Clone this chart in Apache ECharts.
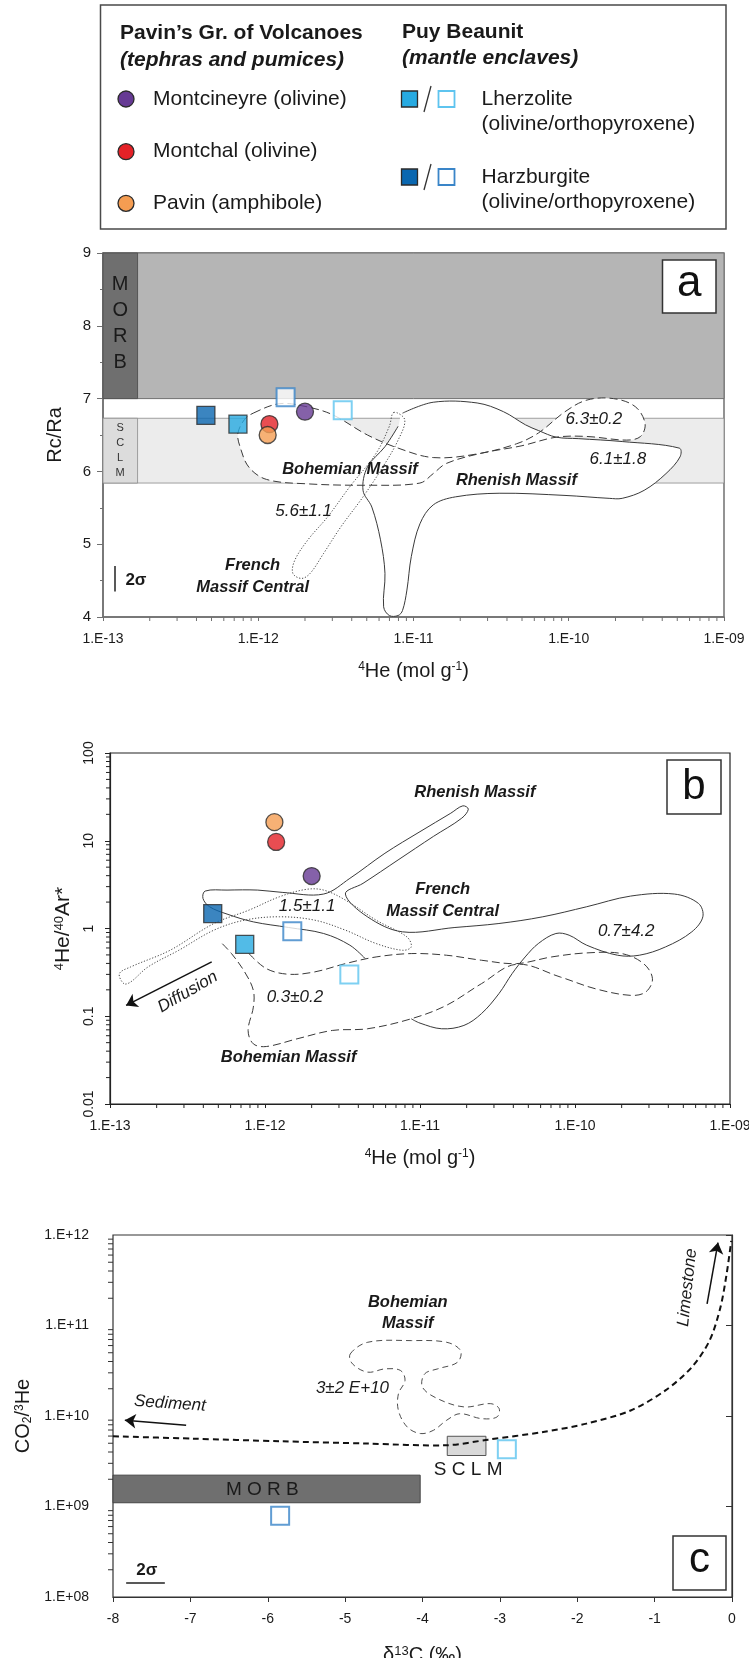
<!DOCTYPE html>
<html><head><meta charset="utf-8">
<script src="https://cdn.jsdelivr.net/npm/echarts@6/dist/echarts.min.js"></script>
<style>html,body{margin:0;padding:0;background:#fff}#c{width:749px;height:1658px}</style>
</head><body><div id="c"></div>
<script>
// ---------------- DATA ----------------
// samples: circles = Pavin's group of volcanoes, squares = Puy Beaunit enclaves
const circleNames = ['Montcineyre (olivine)', 'Montchal (olivine)', 'Pavin (amphibole)'];
const circleHe    = [2.0e-12, 1.18e-12, 1.15e-12];
const circleRcRa  = [6.82, 6.65, 6.50];
const circleHeAr  = [3.96, 9.7, 16.3];

const squareNames = ['Lherzolite (olivine)', 'Harzburgite (olivine)', 'Lherzolite (orthopyroxene)', 'Harzburgite (orthopyroxene)'];
const squareHe    = [7.4e-13, 4.6e-13, 3.5e-12, 1.5e-12];
const squareRcRa  = [6.65, 6.77, 6.84, 7.02];
const squareHeAr  = [0.66, 1.48, 0.30, 0.93];
const squareD13C  = [null, null, -2.91, -5.84];
const squareCO2He = [null, null, 4.3e9, 7.9e8];

// axes
const heRange = [1e-13, 1e-9];
const rcRaRange = [4, 9];
const heArRange = [0.01, 100];
const d13cRange = [-8, 0];
const co2HeRange = [1e8, 1e12];
const heTickLabels = ['1.E-13', '1.E-12', '1.E-11', '1.E-10', '1.E-09'];
const heArTickLabels = ['0.01', '0.1', '1', '10', '100'];
const co2HeTickLabels = ['1.E+08', '1.E+09', '1.E+10', '1.E+11', '1.E+12'];
const logMinorMultipliers = [2, 3, 4, 5, 6, 7, 8, 9];

// reference fields
const morbRcRa = [7, 9];
const sclmRcRa = [5.84, 6.73];
const bandLabelHe = [1e-13, 1.67e-13];
const morbD13C = [-8, -4.03];
const morbCO2He = [1.1e9, 2.22e9];
const sclmD13C = [-3.68, -3.18];
const sclmCO2He = [3.66e9, 5.97e9];

// panel a outlines
const bohemianA_He = [9.28e-13, 1.37e-12, 2.03e-12, 3.00e-12, 5.05e-12, 7.96e-12, 1.34e-11, 2.57e-11, 4.62e-11, 6.40e-11, 9.46e-11, 1.31e-10, 1.94e-10, 2.68e-10, 3.10e-10, 2.90e-10, 2.36e-10, 1.31e-10, 8.31e-11, 4.93e-11, 2.74e-11, 1.63e-11, 1.34e-11, 1.10e-11, 5.05e-12, 2.03e-12, 1.13e-12, 8.69e-13, 7.63e-13, 7.39e-13, 8.14e-13];
const bohemianA_R  = [6.80, 6.93, 6.89, 6.78, 6.50, 6.32, 6.19, 6.24, 6.38, 6.53, 6.82, 6.98, 7.00, 6.89, 6.66, 6.48, 6.43, 6.48, 6.47, 6.35, 6.25, 6.11, 5.97, 5.84, 5.81, 5.83, 5.89, 6.06, 6.34, 6.52, 6.71];
const rhenishA_He = [8.50e-12, 1.34e-11, 2.57e-11, 3.80e-11, 5.26e-11, 6.40e-11, 8.31e-11, 1.15e-10, 2.21e-10, 5.15e-10, 5.21e-10, 4.23e-10, 3.06e-10, 2.21e-10, 1.82e-10, 9.46e-11, 3.56e-11, 1.86e-11, 1.34e-11, 1.10e-11, 9.68e-12, 9.07e-12, 8.50e-12, 7.96e-12, 6.99e-12, 6.42e-12, 6.55e-12, 6.13e-12, 5.39e-12, 4.73e-12, 5.05e-12, 6.55e-12, 7.96e-12];
const rhenishA_R  = [6.80, 6.95, 6.94, 6.82, 6.64, 6.56, 6.47, 6.45, 6.41, 6.32, 6.20, 5.97, 5.74, 5.63, 5.63, 5.67, 5.70, 5.65, 5.54, 5.28, 4.83, 4.37, 4.09, 4.02, 4.02, 4.14, 4.60, 5.06, 5.51, 5.74, 6.06, 6.34, 6.62];
const frenchA_He = [7.46e-12, 8.78e-12, 7.96e-12, 6.34e-12, 4.73e-12, 3.41e-12, 2.63e-12, 2.16e-12, 1.90e-12, 1.67e-12, 1.72e-12, 2.09e-12, 2.81e-12, 3.89e-12, 5.75e-12, 6.99e-12];
const frenchA_R  = [6.81, 6.71, 6.43, 6.06, 5.65, 5.24, 4.87, 4.60, 4.53, 4.60, 4.78, 5.06, 5.38, 5.79, 6.25, 6.62];

// panel b outlines
const frenchB_He = [1.23e-13, 1.15e-13, 1.36e-13, 2.44e-13, 4.68e-13, 7.88e-13, 1.24e-12, 1.84e-12, 2.39e-12, 3.30e-12, 5.21e-12, 8.23e-12, 8.78e-12, 7.71e-12, 5.21e-12, 3.30e-12, 2.09e-12, 1.24e-12, 7.39e-13, 4.68e-13, 2.78e-13, 1.76e-13, 1.36e-13];
const frenchB_R  = [0.235, 0.306, 0.365, 0.565, 1.14, 1.62, 2.30, 2.79, 2.74, 2.11, 1.245, 0.803, 0.617, 0.565, 0.674, 0.957, 1.245, 1.36, 1.245, 0.957, 0.565, 0.365, 0.246];
const rhenishB_He = [4.43e-12, 3.53e-12, 2.39e-12, 1.42e-12, 8.41e-13, 5.69e-13, 4.39e-13, 3.98e-13, 4.11e-13, 5.69e-13, 8.98e-13, 1.29e-12, 2.39e-12, 3.53e-12, 5.94e-12, 1.00e-11, 1.58e-11, 1.89e-11, 2.05e-11, 1.86e-11, 1.22e-11, 7.22e-12, 4.29e-12, 3.30e-12, 4.58e-12, 7.71e-12, 1.68e-11, 3.23e-11, 6.20e-11, 1.19e-10, 2.28e-10, 4.37e-10, 6.26e-10, 6.68e-10, 5.67e-10, 3.84e-10, 2.60e-10, 1.88e-10, 1.19e-10, 9.16e-11, 7.53e-11, 5.80e-11, 4.77e-11, 3.93e-11, 3.23e-11, 2.49e-11, 1.92e-11, 1.38e-11, 1.00e-11, 8.78e-12];
const rhenishB_R  = [0.454, 0.645, 0.877, 1.027, 1.19, 1.46, 1.77, 2.20, 2.67, 2.74, 2.74, 2.58, 2.47, 3.73, 7.20, 12.7, 20.6, 25.0, 22.9, 18.1, 11.2, 6.04, 3.27, 2.47, 1.36, 0.916, 1.027, 1.14, 1.36, 1.77, 2.34, 2.47, 1.93, 1.36, 0.916, 0.617, 0.496, 0.496, 0.645, 0.839, 0.877, 0.674, 0.474, 0.306, 0.181, 0.107, 0.0786, 0.0720, 0.0835, 0.0936];
const bohemianB_He = [7.88e-13, 1.02e-12, 1.42e-12, 2.09e-12, 3.30e-12, 5.21e-12, 8.78e-12, 1.48e-11, 2.49e-11, 4.19e-11, 7.06e-11, 1.19e-10, 2.00e-10, 2.77e-10, 3.16e-10, 2.86e-10, 2.28e-10, 1.35e-10, 8.04e-11, 4.19e-11, 2.49e-11, 1.48e-11, 8.78e-12, 4.58e-12, 2.72e-12, 1.61e-12, 1.02e-12, 8.41e-13, 7.78e-13, 8.41e-13, 8.41e-13, 7.39e-13, 6.08e-13, 5.16e-13];
const bohemianB_R  = [0.518, 0.349, 0.301, 0.320, 0.398, 0.474, 0.518, 0.496, 0.435, 0.398, 0.474, 0.527, 0.518, 0.398, 0.268, 0.189, 0.173, 0.206, 0.280, 0.391, 0.235, 0.133, 0.0936, 0.0720, 0.0689, 0.0553, 0.0452, 0.0485, 0.0689, 0.127, 0.197, 0.320, 0.518, 0.704];

// panel c outlines
const bohemianC_D = [-4.934, -4.707, -4.142, -3.689, -3.508, -3.547, -3.802, -3.972, -4.000, -3.802, -3.463, -3.123, -3.010, -3.038, -3.236, -3.519, -3.689, -3.859, -4.028, -4.198, -4.311, -4.311, -4.226, -4.283, -4.481, -4.707, -4.905];
const bohemianC_C = [4.85e10, 6.53e10, 6.81e10, 6.53e10, 5.28e10, 3.93e10, 3.32e10, 2.92e10, 2.08e10, 1.55e10, 1.26e10, 1.37e10, 1.21e10, 9.75e9, 9.35e9, 1.06e10, 8.96e9, 6.95e9, 6.40e9, 7.57e9, 1.15e10, 1.76e10, 2.47e10, 3.18e10, 3.32e10, 3.05e10, 3.77e10];
const mixD13C  = [-8, -6.97, -5.84, -4.71, -3.69, -3.15, -2.44, -1.88, -1.31, -0.86, -0.52, -0.29, -0.15, -0.07, -0.01];
const mixCO2He = [5.97e9, 5.62e9, 5.26e9, 4.96e9, 4.75e9, 5.48e9, 6.66e9, 8.24e9, 1.15e10, 1.92e10, 3.46e10, 6.81e10, 1.58e11, 3.69e11, 8.59e11];

// annotations [x, y, text]
const regionTextA = [[3.9e-12, 6.02, 'Bohemian Massif'], [4.6e-11, 5.88, 'Rhenish Massif'], [9.2e-13, 4.56, 'French\nMassif Central']];
const valueTextA  = [[1.45e-10, 6.71, '6.3±0.2'], [2.07e-10, 6.16, '6.1±1.8'], [1.96e-12, 5.45, '5.6±1.1']];
const bandTextA   = [[1.29e-13, 8.03, 'M\nO\nR\nB']];
const bandTextA2  = [[1.29e-13, 6.29, 'S\nC\nL\nM']];
const sigmaTextA  = [[1.63e-13, 4.51, '2σ']];
const sigmaBarA   = [[1.19e-13, 4.35], [1.19e-13, 4.70]];

const regionTextB = [[2.26e-11, 35.5, 'Rhenish Massif'], [1.40e-11, 2.08, 'French\nMassif Central'], [1.42e-12, 0.0341, 'Bohemian Massif']];
const valueTextB  = [[1.87e-12, 1.77, '1.5±1.1'], [2.14e-10, 0.94, '0.7±4.2'], [1.56e-12, 0.166, '0.3±0.2']];
const diffusionText = [[3.17e-13, 0.189, 'Diffusion']];
const diffusionArrow = [[4.53e-13, 0.416], [1.27e-13, 0.133]];

const regionTextC = [[-4.19, 1.38e11, 'Bohemian\nMassif']];
const valueTextC  = [[-4.905, 2.0e10, '3±2 E+10']];
const sedimentText = [[-7.264, 1.37e10, 'Sediment']];
const sedimentArrow = [[-7.055, 7.89e9], [-7.847, 8.96e9]];
const limestoneText = [[-0.577, 2.63e11, 'Limestone']];
const limestoneArrow = [[-0.322, 1.73e11], [-0.181, 8.24e11]];
const boxTextC = [[-6.07, 1.52e9, 'M O R B'], [-3.41, 2.52e9, 'S C L M']];
const sigmaTextC = [[-7.564, 1.97e8, '2σ']];
const sigmaBarC = [[-7.83, 1.43e8], [-7.33, 1.43e8]];

// ---------------- STYLE ----------------
const FONT = '"Liberation Sans", Arial, Helvetica, sans-serif';
const TXT = '#1a1a1a';
const circleColors = ['#663a94', '#e42127', '#f59d52'];
const squareFill = ['#27aae1', '#0a67b0', '#ffffff', '#ffffff'];
const squareBorder = ['#2b2b2b', '#2b2b2b', '#5ec4ef', '#3a85c8'];
const squareBorderW = [1.3, 1.3, 2, 2];

function logLabel(labels, range) {
  return function (v) { return labels[Math.round(Math.log10(v) - Math.log10(range[0]))] || ''; };
}
function logMinorValues(range) {
  const out = [];
  const n = Math.round(Math.log10(range[1] / range[0]));
  for (let k = 0; k < n; k++) {
    const d = range[0] * Math.pow(10, k);
    logMinorMultipliers.forEach(function (m) { out.push(m * d); });
  }
  return out;
}
function outline(gi, xs, ys, o) {
  return {
    type: 'custom', xAxisIndex: gi, yAxisIndex: gi, z: o.z || 3, silent: true, clip: false,
    data: [[xs[0], ys[0]]],
    renderItem: function (params, api) {
      const pts = xs.map(function (x, i) { return api.coord([x, ys[i]]); });
      return {
        type: o.closed ? 'polygon' : 'polyline',
        shape: { points: pts, smooth: o.smooth == null ? 0.35 : o.smooth },
        style: { fill: o.fill || 'none', stroke: o.stroke || 'none', lineWidth: o.lw || 1, lineDash: o.dash || null }
      };
    }
  };
}
function texts(gi, items, font, color, o) {
  o = o || {};
  return {
    type: 'custom', xAxisIndex: gi, yAxisIndex: gi, z: 8, silent: true, clip: false,
    data: items.map(function (t) { return [t[0], t[1]]; }),
    renderItem: function (params, api) {
      const t = items[params.dataIndex];
      const p = api.coord([t[0], t[1]]);
      return {
        type: 'text', x: p[0], y: p[1], rotation: (o.rotate || 0) * Math.PI / 180,
        style: { text: t[2], font: font, fill: color, align: 'center', verticalAlign: 'middle', lineHeight: o.lineHeight || null }
      };
    }
  };
}
function minorTicks(gi, axis, values, fixed, color, len) {
  return {
    type: 'custom', xAxisIndex: gi, yAxisIndex: gi, z: 9, silent: true, clip: false,
    data: values.map(function (v) { return axis === 'x' ? [v, fixed] : [fixed, v]; }),
    renderItem: function (params, api) {
      const p = api.coord([api.value(0), api.value(1)]);
      const shape = axis === 'x' ? { x1: p[0], y1: p[1], x2: p[0], y2: p[1] + len } : { x1: p[0] - len, y1: p[1], x2: p[0], y2: p[1] };
      return { type: 'line', shape: shape, style: { stroke: color, lineWidth: 1 } };
    }
  };
}
function segment(gi, pts, color, width, arrow) {
  return {
    type: 'line', xAxisIndex: gi, yAxisIndex: gi, data: [], z: 8, silent: true,
    markLine: {
      silent: true, animation: false, symbol: arrow ? ['none', 'arrow'] : ['none', 'none'], symbolSize: 11,
      label: { show: false }, emphasis: { disabled: true },
      lineStyle: { color: color, width: width, type: 'solid' },
      data: [[{ coord: pts[0] }, { coord: pts[1] }]]
    }
  };
}
function circlesScatter(gi, xs, ys) {
  return {
    type: 'scatter', xAxisIndex: gi, yAxisIndex: gi, z: 6, symbol: 'circle', symbolSize: 17, silent: true,
    data: xs.map(function (x, i) { return { name: circleNames[i], value: [x, ys[i]], itemStyle: { color: circleColors[i], borderColor: '#2b2b2b', borderWidth: 1.3 } }; })
  };
}
function squaresScatter(gi, xs, ys) {
  const d = [];
  xs.forEach(function (x, i) {
    if (x == null || ys[i] == null) return;
    d.push({ name: squareNames[i], value: [x, ys[i]], itemStyle: { color: squareFill[i], borderColor: squareBorder[i], borderWidth: squareBorderW[i] } });
  });
  return { type: 'scatter', xAxisIndex: gi, yAxisIndex: gi, z: 6, symbol: 'rect', symbolSize: 18, silent: true, data: d };
}

const nameStyle = function (size, supSize) {
  return { fontSize: size, color: TXT, fontFamily: FONT,
    rich: { s: { fontSize: supSize, verticalAlign: 'top', lineHeight: supSize, color: TXT, fontFamily: FONT },
            b: { fontSize: supSize, verticalAlign: 'bottom', lineHeight: supSize, color: TXT, fontFamily: FONT } } };
};
const lbl = function (extra) {
  return Object.assign({ fontSize: 14, color: TXT, fontFamily: FONT, showMinLabel: true, showMaxLabel: true, hideOverlap: false }, extra);
};

const BI = 'italic bold 16.5px ' + FONT;
const IT = 'italic 17px ' + FONT;

const option = {
  animation: false,
  backgroundColor: '#ffffff',
  grid: [
    { left: 103, top: 253, width: 621, height: 364, show: true, borderColor: '#707070', borderWidth: 1.5, containLabel: false, outerBoundsMode: 'none' },
    { left: 110, top: 753, width: 620, height: 351, show: true, borderColor: '#222222', borderWidth: 1.2, containLabel: false, outerBoundsMode: 'none' },
    { left: 113, top: 1235, width: 619, height: 362, show: true, borderColor: '#333333', borderWidth: 1.2, containLabel: false, outerBoundsMode: 'none' }
  ],
  xAxis: [
    { gridIndex: 0, type: 'log', logBase: 10, min: heRange[0], max: heRange[1],
      axisLine: { lineStyle: { color: '#707070', width: 1.5 } }, axisTick: { length: 4, lineStyle: { color: '#707070' } },
      axisLabel: lbl({ formatter: logLabel(heTickLabels, heRange), margin: 15 }), splitLine: { show: false },
      name: '{s|4}He (mol g{s|-1})', nameLocation: 'middle', nameGap: 44, nameTextStyle: nameStyle(20, 12) },
    { gridIndex: 1, type: 'log', logBase: 10, min: heRange[0], max: heRange[1],
      axisLine: { lineStyle: { color: '#222', width: 1.2 } }, axisTick: { length: 4, lineStyle: { color: '#222' } },
      axisLabel: lbl({ formatter: logLabel(heTickLabels, heRange), margin: 15 }), splitLine: { show: false },
      name: '{s|4}He (mol g{s|-1})', nameLocation: 'middle', nameGap: 44, nameTextStyle: nameStyle(20, 12) },
    { gridIndex: 2, type: 'value', min: d13cRange[0], max: d13cRange[1], interval: 1,
      axisLine: { onZero: false, lineStyle: { color: '#333', width: 1.2 } }, axisTick: { length: 5, lineStyle: { color: '#333' } },
      axisLabel: lbl({ margin: 15 }), splitLine: { show: false },
      name: 'δ{s|13}C (‰)', nameLocation: 'middle', nameGap: 48, nameTextStyle: nameStyle(20, 13) }
  ],
  yAxis: [
    { gridIndex: 0, type: 'value', min: rcRaRange[0], max: rcRaRange[1], interval: 1,
      axisLine: { lineStyle: { color: '#707070', width: 1.5 } }, axisTick: { length: 6, lineStyle: { color: '#707070' } },
      minorTick: { show: true, splitNumber: 2, length: 3, lineStyle: { color: '#707070' } },
      axisLabel: lbl({ fontSize: 15, margin: 12 }), splitLine: { show: false },
      name: 'Rc/Ra', nameLocation: 'middle', nameGap: 38, nameTextStyle: nameStyle(20, 12) },
    { gridIndex: 1, type: 'log', logBase: 10, min: heArRange[0], max: heArRange[1],
      axisLine: { lineStyle: { color: '#222', width: 1.2 } }, axisTick: { length: 5, lineStyle: { color: '#222' } },
      axisLabel: lbl({ formatter: logLabel(heArTickLabels, heArRange), rotate: 90, margin: 14 }), splitLine: { show: false },
      name: '{s|4}He/{s|40}Ar*', nameLocation: 'middle', nameGap: 36, nameTextStyle: nameStyle(21, 13) },
    { gridIndex: 2, type: 'log', logBase: 10, min: co2HeRange[0], max: co2HeRange[1],
      axisLine: { lineStyle: { color: '#333', width: 1.2 } }, axisTick: { length: 6, lineStyle: { color: '#333' } },
      axisLabel: lbl({ formatter: logLabel(co2HeTickLabels, co2HeRange), margin: 24 }), splitLine: { show: false },
      name: 'CO{b|2}/{s|3}He', nameLocation: 'middle', nameGap: 67, nameTextStyle: nameStyle(20, 12) }
  ],
  series: [
    // ---------- panel a ----------
    { type: 'line', xAxisIndex: 0, yAxisIndex: 0, data: [], z: 1, silent: true,
      markArea: { silent: true, animation: false, label: { show: false }, emphasis: { disabled: true }, data: [
        [{ coord: [heRange[0], morbRcRa[0]], itemStyle: { color: '#b5b5b5', borderColor: '#707070', borderWidth: 1 } }, { coord: [heRange[1], morbRcRa[1]] }],
        [{ coord: [bandLabelHe[0], morbRcRa[0]], itemStyle: { color: '#6f6f6f', borderColor: '#555', borderWidth: 1 } }, { coord: [bandLabelHe[1], morbRcRa[1]] }],
        [{ coord: [heRange[0], sclmRcRa[0]], itemStyle: { color: '#ececec', borderColor: '#8a8a8a', borderWidth: 0.8 } }, { coord: [heRange[1], sclmRcRa[1]] }],
        [{ coord: [bandLabelHe[0], sclmRcRa[0]], itemStyle: { color: '#dcdcdc', borderColor: '#8a8a8a', borderWidth: 0.8 } }, { coord: [bandLabelHe[1], sclmRcRa[1]] }]
      ] } },
    outline(0, rhenishA_He, rhenishA_R, { closed: true, fill: '#ffffff', z: 2 }),
    outline(0, bohemianA_He, bohemianA_R, { closed: true, fill: '#ffffff', z: 2 }),
    outline(0, rhenishA_He, rhenishA_R, { closed: false, stroke: '#3a3a3a', lw: 1, z: 3 }),
    outline(0, bohemianA_He, bohemianA_R, { closed: true, stroke: '#3a3a3a', lw: 1, dash: [8, 4], z: 3 }),
    outline(0, frenchA_He, frenchA_R, { closed: true, stroke: '#444', lw: 1, dash: [1.2, 1.8], z: 3 }),
    squaresScatter(0, squareHe, squareRcRa),
    circlesScatter(0, circleHe, circleRcRa),
    texts(0, regionTextA, BI, TXT, { lineHeight: 22 }),
    texts(0, valueTextA, IT, TXT),
    texts(0, bandTextA, '20px ' + FONT, '#1a1a1a', { lineHeight: 26 }),
    texts(0, bandTextA2, '11px ' + FONT, '#333', { lineHeight: 15 }),
    texts(0, sigmaTextA, 'bold 17px ' + FONT, TXT),
    segment(0, sigmaBarA, '#222', 1.5, false),
    minorTicks(0, 'x', logMinorValues(heRange), rcRaRange[0], '#707070', 4),

    // ---------- panel b ----------
    outline(1, rhenishB_He, rhenishB_R, { closed: false, stroke: '#3a3a3a', lw: 1, z: 3 }),
    outline(1, bohemianB_He, bohemianB_R, { closed: false, stroke: '#3a3a3a', lw: 1, dash: [8, 4], z: 3 }),
    outline(1, frenchB_He, frenchB_R, { closed: true, stroke: '#444', lw: 1, dash: [1.2, 1.8], z: 3 }),
    squaresScatter(1, squareHe, squareHeAr),
    circlesScatter(1, circleHe, circleHeAr),
    texts(1, regionTextB, BI, TXT, { lineHeight: 22 }),
    texts(1, valueTextB, IT, TXT),
    texts(1, diffusionText, IT, TXT, { rotate: 30 }),
    segment(1, diffusionArrow, '#111', 1.5, true),
    minorTicks(1, 'x', logMinorValues(heRange), heArRange[0], '#222', 4),
    minorTicks(1, 'y', logMinorValues(heArRange), heRange[0], '#222', 4),

    // ---------- panel c ----------
    outline(2, mixD13C, mixCO2He, { closed: false, stroke: '#111', lw: 2, dash: [6, 4], z: 3, smooth: 0.3 }),
    { type: 'line', xAxisIndex: 2, yAxisIndex: 2, data: [], z: 4, silent: true,
      markArea: { silent: true, animation: false, label: { show: false }, emphasis: { disabled: true }, data: [
        [{ coord: [morbD13C[0], morbCO2He[0]], itemStyle: { color: '#6f6f6f', borderColor: '#444', borderWidth: 1 } }, { coord: [morbD13C[1], morbCO2He[1]] }],
        [{ coord: [sclmD13C[0], sclmCO2He[0]], itemStyle: { color: '#d9d9d9', borderColor: '#555', borderWidth: 1 } }, { coord: [sclmD13C[1], sclmCO2He[1]] }]
      ] } },
    outline(2, bohemianC_D, bohemianC_C, { closed: true, stroke: '#3a3a3a', lw: 0.9, dash: [6, 4], z: 3 }),
    squaresScatter(2, squareD13C, squareCO2He),
    texts(2, regionTextC, BI, TXT, { lineHeight: 21 }),
    texts(2, valueTextC, IT, TXT),
    texts(2, sedimentText, IT, TXT, { rotate: -4 }),
    texts(2, limestoneText, IT, TXT, { rotate: 84 }),
    texts(2, boxTextC, '19px ' + FONT, '#1a1a1a'),
    texts(2, sigmaTextC, 'bold 17px ' + FONT, TXT),
    segment(2, sedimentArrow, '#111', 1.5, true),
    segment(2, limestoneArrow, '#111', 1.5, true),
    segment(2, sigmaBarC, '#222', 1.5, false),
    minorTicks(2, 'y', logMinorValues(co2HeRange), d13cRange[0], '#333', 5)
  ],
  graphic: { elements: [] }
};

// ---------------- legend box & panel letters ----------------
const G = option.graphic.elements;
const LF = '21px ' + FONT;
G.push({ type: 'rect', z: 20, shape: { x: 100.5, y: 5, width: 625.5, height: 224 }, style: { fill: '#fff', stroke: '#4a4a4a', lineWidth: 1.5 } });
G.push({ type: 'text', z: 21, x: 120, y: 33, style: { text: 'Pavin’s Gr. of Volcanoes', font: 'bold ' + LF, fill: TXT, verticalAlign: 'middle' } });
G.push({ type: 'text', z: 21, x: 120, y: 60, style: { text: '(tephras and pumices)', font: 'italic bold ' + LF, fill: TXT, verticalAlign: 'middle' } });
G.push({ type: 'text', z: 21, x: 402, y: 32, style: { text: 'Puy Beaunit', font: 'bold ' + LF, fill: TXT, verticalAlign: 'middle' } });
G.push({ type: 'text', z: 21, x: 402, y: 58, style: { text: '(mantle enclaves)', font: 'italic bold ' + LF, fill: TXT, verticalAlign: 'middle' } });
const circleLegendY = [99, 151.7, 203.3];
circleNames.forEach(function (n, i) {
  G.push({ type: 'circle', z: 21, shape: { cx: 126, cy: circleLegendY[i], r: 8 }, style: { fill: circleColors[i], stroke: '#2b2b2b', lineWidth: 1.3 } });
  G.push({ type: 'text', z: 21, x: 153, y: circleLegendY[i], style: { text: n, font: LF, fill: TXT, verticalAlign: 'middle' } });
});
const squareLegend = [
  { y: 99, filled: 0, open: 2, name: 'Lherzolite' },
  { y: 177, filled: 1, open: 3, name: 'Harzburgite' }
];
squareLegend.forEach(function (s) {
  G.push({ type: 'rect', z: 21, shape: { x: 401.5, y: s.y - 8, width: 16, height: 16 }, style: { fill: squareFill[s.filled], stroke: squareBorder[s.filled], lineWidth: 1.3 } });
  G.push({ type: 'line', z: 21, shape: { x1: 424, y1: s.y + 13, x2: 431, y2: s.y - 13 }, style: { stroke: '#333', lineWidth: 1.3 } });
  G.push({ type: 'rect', z: 21, shape: { x: 438.5, y: s.y - 8, width: 16, height: 16 }, style: { fill: '#fff', stroke: squareBorder[s.open], lineWidth: 1.8 } });
  G.push({ type: 'text', z: 21, x: 481.6, y: s.y, style: { text: s.name, font: LF, fill: TXT, verticalAlign: 'middle' } });
  G.push({ type: 'text', z: 21, x: 481.6, y: s.y + 25, style: { text: '(olivine/orthopyroxene)', font: LF, fill: TXT, verticalAlign: 'middle' } });
});
[
  { x: 662.5, y: 260, w: 53.5, h: 53, t: 'a', dy: -3, fs: 44 },
  { x: 667, y: 760, w: 54, h: 54, t: 'b', dy: 0, fs: 42 },
  { x: 673, y: 1536, w: 53, h: 54, t: 'c', dy: -3, fs: 42 }
].forEach(function (b) {
  G.push({ type: 'rect', z: 21, shape: { x: b.x, y: b.y, width: b.w, height: b.h }, style: { fill: '#fff', stroke: '#333', lineWidth: 1.5 } });
  G.push({ type: 'text', z: 22, x: b.x + b.w / 2, y: b.y + b.h / 2 + b.dy, style: { text: b.t, font: b.fs + 'px ' + FONT, fill: '#111', align: 'center', verticalAlign: 'middle' } });
});

const chart = echarts.init(document.getElementById('c'), null, { renderer: 'canvas', width: 749, height: 1658 });
chart.setOption(option);
</script></body></html>
